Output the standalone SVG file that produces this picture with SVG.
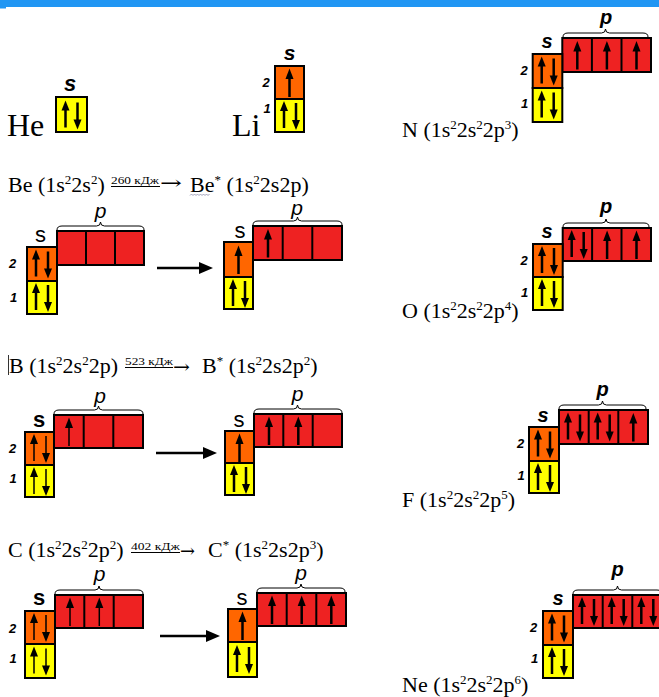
<svg xmlns="http://www.w3.org/2000/svg" xmlns:xlink="http://www.w3.org/1999/xlink" width="659" height="697" viewBox="0 0 659 697">
<style>
.t{font-family:"Liberation Serif","Times New Roman",serif;font-size:22px;fill:#000}
.big{font-size:32px}
.sp{font-size:13px}
.e{font-family:"Liberation Serif","Times New Roman",serif;font-size:11px;fill:#000}
.ar{font-family:"DejaVu Serif",serif;font-size:18px;fill:#000}
.lb{font-family:"Liberation Sans",Arial,sans-serif;font-weight:bold;font-style:italic;fill:#000;text-anchor:middle}
.ls{font-size:20px}
.ln{font-size:13px}
.rs{font-family:"Liberation Sans",Arial,sans-serif;font-size:22px;fill:#000;text-anchor:middle}
.rp{font-family:"Liberation Sans",Arial,sans-serif;font-size:21px;font-style:italic;fill:#000;text-anchor:middle}
.y{fill:#FFFF00;stroke:#000;stroke-width:2}
.o{fill:#FF6600;stroke:#000;stroke-width:2}
.r{fill:#EE2222;stroke:#000;stroke-width:2}
.dv{stroke:#000;stroke-width:2}
.br{fill:none;stroke:#000;stroke-width:1}
.hd{fill:#000;stroke:none}
use.a{stroke:#000;stroke-width:2.5}
use.th{stroke:#000;stroke-width:1.5}
.ul{stroke:#000;stroke-width:1}
.cn{stroke:#000;stroke-width:2.5;fill:none}
</style>
<defs>
<g id="u"><path d="M15 31V11"/><path class="hd" d="M11 13L15 2.5 19 13z"/></g>
<g id="ud"><path d="M9 29V10"/><path class="hd" d="M5 12L9 2 13 12z"/><path d="M21 4V23"/><path class="hd" d="M17 21L21 31 25 21z"/></g>
<marker id="ah" markerWidth="14" markerHeight="12" refX="8" refY="6" orient="auto" markerUnits="userSpaceOnUse"><path d="M0,0 L14,6 L0,12 z" fill="#000"/></marker>
</defs>

<g id="top-bar">
<rect x="0" y="0" width="659" height="7" fill="#2196F3"/>
<rect x="0" y="7" width="6" height="1.5" fill="#2196F3"/>
</g>

<g id="he">
<text class="t big" x="7" y="136">He</text>
<rect class="y" x="56" y="97" width="31" height="35"/>
<use href="#ud" x="56.5" y="98.5" class="a"/>
<text class="lb" font-size="22" x="70" y="91">s</text>
</g>

<g id="li">
<text class="t big" x="232" y="136">Li</text>
<rect class="o" x="275" y="66" width="29" height="33"/>
<rect class="y" x="275" y="99" width="29" height="33"/>
<use href="#u" x="274.5" y="66" class="a"/>
<use href="#ud" x="275" y="99" class="a"/>
<text class="lb" font-size="21" font-style="normal" x="289.5" y="60">s</text>
<text class="lb ln" x="266" y="87">2</text>
<text class="lb ln" x="267" y="113">1</text>
</g>

<g id="n">
<rect class="r" x="562.3" y="38" width="88.7" height="34"/>
<line class="dv" x1="591.9" y1="38" x2="591.9" y2="72"/>
<line class="dv" x1="621.5" y1="38" x2="621.5" y2="72"/>
<rect class="o" x="532.7" y="54" width="29.6" height="34"/>
<rect class="y" x="532.7" y="88" width="29.6" height="34"/>
<use href="#ud" x="532.7" y="54.5" class="a"/>
<use href="#ud" x="532.7" y="88.5" class="a"/>
<use href="#u" x="562.3" y="38.5" class="a"/>
<use href="#u" x="591.9" y="38.5" class="a"/>
<use href="#u" x="621.5" y="38.5" class="a"/>
<path class="br" d="M563,37 Q563,33 568,33 L601.5,33 Q605.5,33 605.5,29 Q605.5,33 609.5,33 L643,33 Q648,33 648,37"/>
<text class="lb ls" x="606" y="23.5">p</text>
<text class="lb ls" x="547" y="48">s</text>
<text class="lb ln" x="524" y="75">2</text>
<text class="lb ln" x="524.5" y="108">1</text>
<text class="t" x="402" y="137">N (1s<tspan class="sp" dy="-8">2</tspan><tspan dy="8">2s</tspan><tspan class="sp" dy="-8">2</tspan><tspan dy="8">2p</tspan><tspan class="sp" dy="-8">3</tspan><tspan dy="8">)</tspan></text>
</g>

<g id="be-line">
<text class="t" x="8" y="192">Be (1s<tspan class="sp" dy="-8">2</tspan><tspan dy="8">2s</tspan><tspan class="sp" dy="-8">2</tspan><tspan dy="8">)</tspan></text>
<text class="e" x="111" y="184" textLength="48" lengthAdjust="spacingAndGlyphs">260 кДж</text>
<line class="ul" x1="111" y1="186.5" x2="160" y2="186.5"/>
<text class="ar" x="160" y="188.5" textLength="22" lengthAdjust="spacingAndGlyphs">→</text>
<text class="t" x="190" y="192">Be<tspan class="sp" dy="-8">*</tspan><tspan dy="8"> (1s</tspan><tspan class="sp" dy="-8">2</tspan><tspan dy="8">2s2p)</tspan></text>
<path d="M190,195.5 l1.5,-1.5 l1.5,1.5 l1.5,-1.5 l1.5,1.5 l1.5,-1.5 l1.5,1.5 l1.5,-1.5 l1.5,1.5 l1.5,-1.5 l1.5,1.5 l1.5,-1.5 l1.5,1.5 l1.5,-1.5" fill="none" stroke="#8a8aa8" stroke-width="0.8"/>
</g>

<g id="be-ground">
<rect class="r" x="57" y="231" width="87" height="34"/>
<line class="dv" x1="86" y1="231" x2="86" y2="265"/>
<line class="dv" x1="115" y1="231" x2="115" y2="265"/>
<rect class="o" x="27" y="247" width="30" height="34"/>
<rect class="y" x="27" y="281" width="30" height="33"/>
<use href="#ud" x="27" y="247.5" class="a"/>
<use href="#ud" x="27" y="281" class="a"/>
<path class="br" d="M57,230 Q57,226 62,226 L96.5,226 Q100.5,226 100.5,222 Q100.5,226 104.5,226 L139,226 Q144,226 144,230"/>
<text class="rp" x="100.5" y="218">p</text>
<text class="rs" x="40.5" y="242">s</text>
<text class="lb ln" x="12.5" y="268">2</text>
<text class="lb ln" x="13.5" y="302">1</text>
</g>

<g id="be-excited">
<rect class="r" x="253" y="226" width="89" height="34"/>
<line class="dv" x1="282.7" y1="226" x2="282.7" y2="260"/>
<line class="dv" x1="312.3" y1="226" x2="312.3" y2="260"/>
<rect class="o" x="224" y="242" width="29" height="35"/>
<rect class="y" x="224" y="277" width="29" height="32"/>
<use href="#u" x="223.5" y="243" class="a"/>
<use href="#ud" x="224" y="277" class="a"/>
<use href="#u" x="253" y="226.5" class="a"/>
<path class="br" d="M253,225 Q253,221 258,221 L293.5,221 Q297.5,221 297.5,217 Q297.5,221 301.5,221 L337,221 Q342,221 342,225"/>
<text class="rp" font-size="20" x="297" y="215">p</text>
<text class="rs" x="240" y="238">s</text>
</g>

<g id="o">
<rect class="r" x="562.7" y="228" width="88.3" height="33"/>
<line class="dv" x1="592.1" y1="228" x2="592.1" y2="261"/>
<line class="dv" x1="621.5" y1="228" x2="621.5" y2="261"/>
<rect class="o" x="533" y="244" width="29.7" height="33"/>
<rect class="y" x="533" y="277" width="29.7" height="33"/>
<use href="#ud" x="533" y="244" class="a"/>
<use href="#ud" x="533" y="277" class="a"/>
<use href="#ud" x="562.7" y="228" class="a"/>
<use href="#u" x="592.1" y="228" class="a"/>
<use href="#u" x="621.5" y="228" class="a"/>
<path class="br" d="M563,227 Q563,223 568,223 L602,223 Q606,223 606,219 Q606,223 610,223 L644,223 Q649,223 649,227"/>
<text class="lb ls" x="606" y="212.5">p</text>
<text class="lb ls" x="547" y="238">s</text>
<text class="lb ln" x="524" y="265">2</text>
<text class="lb ln" x="524.5" y="297">1</text>
<text class="t" x="402" y="318">O (1s<tspan class="sp" dy="-8">2</tspan><tspan dy="8">2s</tspan><tspan class="sp" dy="-8">2</tspan><tspan dy="8">2p</tspan><tspan class="sp" dy="-8">4</tspan><tspan dy="8">)</tspan></text>
</g>

<g id="b-line">
<line x1="8.5" y1="355" x2="8.5" y2="375" stroke="#333" stroke-width="1"/>
<text class="t" x="9" y="373">B (1s<tspan class="sp" dy="-8">2</tspan><tspan dy="8">2s</tspan><tspan class="sp" dy="-8">2</tspan><tspan dy="8">2p)</tspan></text>
<text class="e" x="125" y="365" textLength="48" lengthAdjust="spacingAndGlyphs">523 кДж</text>
<line class="ul" x1="125" y1="367.5" x2="173" y2="367.5"/>
<text class="ar" x="173" y="372.5" textLength="17" lengthAdjust="spacingAndGlyphs">→</text>
<text class="t" x="202" y="373">B<tspan class="sp" dy="-8">*</tspan><tspan dy="8"> (1s</tspan><tspan class="sp" dy="-8">2</tspan><tspan dy="8">2s2p</tspan><tspan class="sp" dy="-8">2</tspan><tspan dy="8">)</tspan></text>
</g>

<g id="b-ground">
<rect class="r" x="54" y="415" width="89" height="33"/>
<line class="dv" x1="83.7" y1="415" x2="83.7" y2="448"/>
<line class="dv" x1="113.3" y1="415" x2="113.3" y2="448"/>
<rect class="o" x="25" y="432" width="29" height="33"/>
<rect class="y" x="25" y="465" width="29" height="32"/>
<use href="#ud" x="25" y="432" class="th"/>
<use href="#ud" x="25" y="465" class="th"/>
<use href="#u" x="54" y="415" class="th"/>
<path class="br" d="M54,414 Q54,410 59,410 L94.5,410 Q98.5,410 98.5,406 Q98.5,410 102.5,410 L138,410 Q143,410 143,414"/>
<text class="rp" x="100" y="403">p</text>
<text class="rs" x="39" y="427" font-weight="bold">s</text>
<text class="lb ln" x="12.5" y="453">2</text>
<text class="lb ln" x="13" y="483">1</text>
</g>

<g id="b-excited">
<rect class="r" x="254" y="414" width="88" height="33"/>
<line class="dv" x1="283.3" y1="414" x2="283.3" y2="447"/>
<line class="dv" x1="312.7" y1="414" x2="312.7" y2="447"/>
<rect class="o" x="225" y="431" width="29" height="32"/>
<rect class="y" x="225" y="463" width="29" height="32"/>
<use href="#u" x="224.5" y="431" class="a"/>
<use href="#ud" x="225" y="463" class="a"/>
<use href="#u" x="254" y="414" class="a"/>
<use href="#u" x="283.3" y="414" class="a"/>
<path class="br" d="M254,413 Q254,409 259,409 L293.5,409 Q297.5,409 297.5,405 Q297.5,409 301.5,409 L337,409 Q342,409 342,413"/>
<text class="rp" x="297.5" y="401">p</text>
<text class="rs" x="239" y="427">s</text>
</g>

<g id="f">
<rect class="r" x="559" y="410" width="89" height="34"/>
<line class="dv" x1="588.7" y1="410" x2="588.7" y2="444"/>
<line class="dv" x1="618.3" y1="410" x2="618.3" y2="444"/>
<rect class="o" x="529" y="427" width="30" height="34"/>
<rect class="y" x="529" y="461" width="30" height="32"/>
<use href="#ud" x="529" y="427.5" class="a"/>
<use href="#ud" x="529" y="461" class="a"/>
<use href="#ud" x="559" y="410.5" class="a"/>
<use href="#ud" x="588.7" y="410.5" class="a"/>
<use href="#u" x="618.3" y="410.5" class="a"/>
<path class="br" d="M559,409 Q559,405 564,405 L598.5,405 Q602.5,405 602.5,401 Q602.5,405 606.5,405 L641,405 Q646,405 646,409"/>
<text class="lb ls" x="602.5" y="395.5">p</text>
<text class="lb ls" x="543" y="422">s</text>
<text class="lb ln" x="520.5" y="448">2</text>
<text class="lb ln" x="521" y="480">1</text>
<text class="t" x="402" y="507">F (1s<tspan class="sp" dy="-8">2</tspan><tspan dy="8">2s</tspan><tspan class="sp" dy="-8">2</tspan><tspan dy="8">2p</tspan><tspan class="sp" dy="-8">5</tspan><tspan dy="8">)</tspan></text>
</g>

<g id="c-line">
<text class="t" x="8" y="557">C (1s<tspan class="sp" dy="-8">2</tspan><tspan dy="8">2s</tspan><tspan class="sp" dy="-8">2</tspan><tspan dy="8">2p</tspan><tspan class="sp" dy="-8">2</tspan><tspan dy="8">)</tspan></text>
<text class="e" x="131" y="550" textLength="49" lengthAdjust="spacingAndGlyphs">402 кДж</text>
<line class="ul" x1="131" y1="552.5" x2="180" y2="552.5"/>
<text class="ar" x="180" y="556.5" textLength="15" lengthAdjust="spacingAndGlyphs">→</text>
<text class="t" x="208" y="557">C<tspan class="sp" dy="-8">*</tspan><tspan dy="8"> (1s</tspan><tspan class="sp" dy="-8">2</tspan><tspan dy="8">2s2p</tspan><tspan class="sp" dy="-8">3</tspan><tspan dy="8">)</tspan></text>
</g>

<g id="c-ground">
<rect class="r" x="55" y="595" width="88" height="33"/>
<line class="dv" x1="84.3" y1="595" x2="84.3" y2="628"/>
<line class="dv" x1="113.7" y1="595" x2="113.7" y2="628"/>
<rect class="o" x="25" y="611" width="30" height="33"/>
<rect class="y" x="25" y="644" width="30" height="34"/>
<use href="#ud" x="25" y="611" class="th"/>
<use href="#ud" x="25" y="644.5" class="th"/>
<use href="#u" x="55" y="595" class="th"/>
<use href="#u" x="84.3" y="595" class="th"/>
<path class="br" d="M55,594 Q55,590 60,590 L95,590 Q99,590 99,586 Q99,590 103,590 L138,590 Q143,590 143,594"/>
<text class="rp" font-size="20" x="99.5" y="581">p</text>
<text class="rs" x="39" y="605" font-weight="bold">s</text>
<text class="lb ln" x="12.5" y="633">2</text>
<text class="lb ln" x="13" y="663">1</text>
</g>

<g id="c-excited">
<rect class="r" x="257" y="593" width="89" height="33"/>
<line class="dv" x1="286.7" y1="593" x2="286.7" y2="626"/>
<line class="dv" x1="316.3" y1="593" x2="316.3" y2="626"/>
<rect class="o" x="228" y="609" width="29" height="33"/>
<rect class="y" x="228" y="642" width="29" height="35"/>
<use href="#u" x="227.5" y="609" class="a"/>
<use href="#ud" x="228" y="643" class="a"/>
<use href="#u" x="257" y="593" class="a"/>
<use href="#u" x="286.7" y="593" class="a"/>
<use href="#u" x="316.3" y="593" class="a"/>
<path class="br" d="M257,592 Q257,588 262,588 L297,588 Q301,588 301,584 Q301,588 305,588 L340,588 Q345,588 345,592"/>
<text class="rp" font-size="20" x="301" y="580">p</text>
<text class="rs" x="242" y="605">s</text>
</g>

<g id="ne">
<rect class="r" x="573" y="595" width="89" height="33"/>
<line class="dv" x1="602.7" y1="595" x2="602.7" y2="628"/>
<line class="dv" x1="632.3" y1="595" x2="632.3" y2="628"/>
<rect class="o" x="543" y="611" width="30" height="34"/>
<rect class="y" x="543" y="645" width="30" height="33"/>
<use href="#ud" x="543" y="611.5" class="a"/>
<use href="#ud" x="543" y="645" class="a"/>
<use href="#ud" x="573" y="595" class="a"/>
<use href="#ud" x="602.7" y="595" class="a"/>
<use href="#ud" x="632.3" y="595" class="a"/>
<path class="br" d="M573,594 Q573,590 578,590 L613.5,590 Q617.5,590 617.5,586 Q617.5,590 621.5,590 L657,590 Q662,590 662,594"/>
<text class="lb ls" x="617.5" y="576">p</text>
<text class="lb ls" x="558" y="605">s</text>
<text class="lb ln" x="533.5" y="632">2</text>
<text class="lb ln" x="534.5" y="663">1</text>
<text class="t" x="402" y="692">Ne (1s<tspan class="sp" dy="-8">2</tspan><tspan dy="8">2s</tspan><tspan class="sp" dy="-8">2</tspan><tspan dy="8">2p</tspan><tspan class="sp" dy="-8">6</tspan><tspan dy="8">)</tspan></text>
</g>

<g id="connectors">
<line class="cn" x1="157" y1="268" x2="207" y2="268" marker-end="url(#ah)"/>
<line class="cn" x1="156" y1="453" x2="211" y2="453" marker-end="url(#ah)"/>
<line class="cn" x1="160" y1="636" x2="214" y2="636" marker-end="url(#ah)"/>
</g>
</svg>
